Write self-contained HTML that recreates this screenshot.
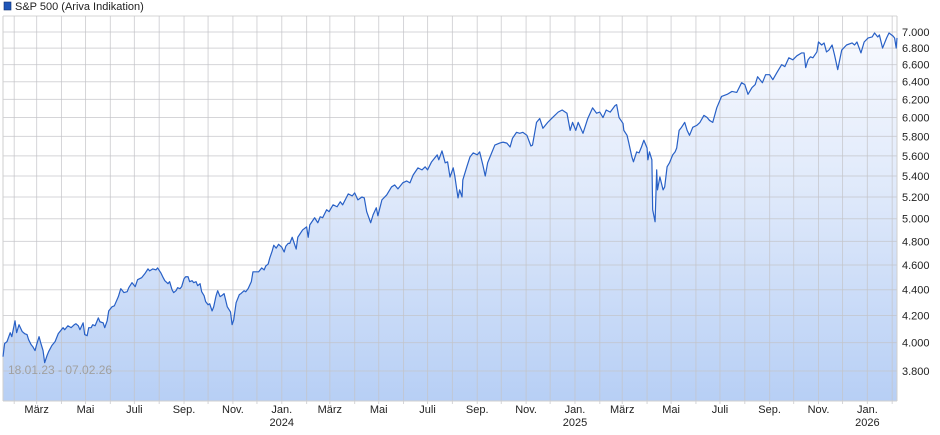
<!DOCTYPE html>
<html><head><meta charset="utf-8">
<style>
html,body{margin:0;padding:0;background:#fff;}
svg{display:block;font-family:"Liberation Sans",Arial,sans-serif;}
</style></head>
<body>
<svg id="chart" width="940" height="435" viewBox="0 0 940 435" xmlns="http://www.w3.org/2000/svg">
<defs>
<linearGradient id="fillGrad" gradientUnits="userSpaceOnUse" x1="0" y1="16" x2="0" y2="401">
<stop offset="0" stop-color="#fbfcff"/>
<stop offset="0.5" stop-color="#dce7fa"/>
<stop offset="1" stop-color="#b7cff5"/>
</linearGradient>
</defs>
<rect x="4" y="2" width="7" height="8" fill="#1f56b8" stroke="#0d2f70" stroke-width="0.6"/>
<text x="15" y="10" font-size="11" fill="#222">S&amp;P 500 (Ariva Indikation)</text>
<g id="fillLayer"></g>
<g id="gridLayer"></g>
<g id="lineLayer"></g>
<g id="axisLayer"></g>
<text x="8" y="374" font-size="12" fill="#a0a0a0">18.01.23 - 07.02.26</text>
</svg>
<script>
// data: days since 2023-01-18, index values
const days = [0,2,5,9,11,15,17,20,24,27,30,32,35,37,40,42,45,47,50,52,55,57,61,65,69,72,75,77,81,85,89,91,94,96,100,102,105,107,110,112,115,119,121,125,127,130,132,136,139,144,147,151,155,157,161,165,168,173,177,181,183,187,191,193,197,200,202,206,208,211,213,216,218,221,223,226,228,231,233,236,238,241,243,246,248,251,253,256,258,261,263,266,268,271,273,276,280,284,286,288,291,295,297,301,303,306,310,312,316,319,323,326,328,331,333,336,338,341,344,348,351,353,356,358,361,366,368,374,379,381,383,389,393,396,399,404,407,412,417,421,424,431,436,439,443,448,451,454,459,462,466,468,473,479,485,489,493,499,504,508,512,518,523,527,530,535,542,544,548,552,555,558,562,564,568,570,573,574,579,583,587,592,595,599,602,605,610,614,620,624,629,633,636,641,645,649,654,659,661,666,670,674,680,686,693,698,704,708,711,715,718,724,730,736,741,745,749,753,758,764,766,769,774,775,779,781,785,787,791,794,797,800,804,805,807,810,811,814,816,817,820,824,826,829,832,836,839,841,844,847,851,854,857,861,866,870,875,879,882,886,891,897,904,910,916,922,926,930,935,939,942,948,952,957,961,966,972,976,981,986,991,997,1000,1002,1005,1008,1011,1016,1018,1022,1025,1028,1031,1035,1038,1042,1047,1053,1060,1063,1066,1071,1075,1080,1085,1088,1092,1094,1098,1103,1106,1111,1113,1115,1116];
const values = [3900,3993,4007,4072,4043,4160,4072,4131,4080,4065,4058,4021,3986,3972,3943,3986,4043,4000,3943,3858,3908,3936,3979,4007,4065,4087,4109,4094,4123,4109,4131,4138,4123,4094,4145,4058,4050,4109,4109,4131,4123,4182,4153,4145,4109,4160,4235,4266,4274,4345,4408,4377,4384,4416,4456,4424,4480,4496,4528,4568,4552,4568,4560,4576,4536,4496,4472,4448,4464,4400,4377,4392,4416,4408,4424,4488,4504,4504,4464,4472,4456,4464,4432,4448,4384,4353,4306,4282,4290,4235,4266,4353,4392,4345,4353,4369,4266,4227,4131,4167,4298,4361,4369,4392,4384,4408,4464,4544,4544,4544,4576,4560,4592,4608,4658,4717,4767,4742,4775,4750,4709,4758,4783,4783,4836,4734,4836,4900,4927,4836,4945,5009,4964,5018,5009,5082,5064,5127,5109,5155,5127,5229,5210,5238,5173,5200,5191,5064,4964,5036,5100,5027,5173,5219,5295,5314,5276,5334,5352,5334,5410,5480,5460,5490,5460,5540,5610,5560,5650,5530,5540,5390,5480,5400,5191,5267,5200,5362,5490,5590,5630,5610,5640,5510,5400,5530,5630,5710,5730,5740,5730,5690,5780,5842,5832,5842,5811,5700,5710,5948,5990,5885,5948,6000,6059,6082,6047,5863,5948,5863,5948,5832,5990,6106,6047,6059,6000,6082,6059,6130,6141,6000,5937,5863,5811,5740,5590,5540,5640,5630,5690,5760,5680,5560,5640,5560,5082,4973,5460,5267,5391,5267,5295,5490,5530,5610,5640,5680,5863,5895,5948,5863,5811,5895,5916,5948,6024,6000,5969,5948,6106,6233,6256,6289,6278,6389,6367,6256,6333,6367,6458,6389,6482,6482,6424,6505,6600,6576,6682,6658,6706,6741,6741,6565,6658,6694,6682,6753,6875,6838,6863,6753,6776,6838,6717,6541,6776,6838,6863,6838,6875,6741,6875,6925,6938,6988,6938,6963,6800,6925,6988,6950,6925,6800,6925];
const yTicks = [3800,4000,4200,4400,4600,4800,5000,5200,5400,5600,5800,6000,6200,6400,6600,6800,7000];
const yTickLabels = ["3.800","4.000","4.200","4.400","4.600","4.800","5.000","5.200","5.400","5.600","5.800","6.000","6.200","6.400","6.600","6.800","7.000"];
const monthNames = ["Jan.","Feb.","März","Apr.","Mai","Juni","Juli","Aug.","Sep.","Okt.","Nov.","Dez."];

const NS="http://www.w3.org/2000/svg";
const L=3,R=897,T=16,B=401,totalDays=1116;
const start=Date.UTC(2023,0,18);
const xs=d=>L+(R-L)*d/totalDays;
const ys=v=>32+555*Math.log(7000/v);
function mk(tag,attrs,parent){const e=document.createElementNS(NS,tag);for(const k in attrs)e.setAttribute(k,attrs[k]);parent.appendChild(e);return e;}

const fillL=document.getElementById('fillLayer'),gridL=document.getElementById('gridLayer'),lineL=document.getElementById('lineLayer'),axL=document.getElementById('axisLayer');

// area & line
let pts=days.map((d,i)=>xs(d).toFixed(2)+","+ys(values[i]).toFixed(2));
const area=mk('path',{d:"M"+xs(days[0])+","+B+" L"+pts.join(" L")+" L"+xs(days[days.length-1])+","+B+" Z",fill:"url(#fillGrad)"},fillL);


const line=mk('polyline',{points:pts.join(" "),fill:"none",stroke:"#2860c6","stroke-width":"1.2","stroke-linejoin":"round"},lineL);



// horizontal grid + y labels
mk('line',{x1:L,x2:R,y1:T,y2:T,stroke:"rgba(200,200,200,0.75)"},gridL);
yTicks.forEach((v,i)=>{
  const y=ys(v);
  const g=mk('line',{x1:L,x2:R,y1:y,y2:y,stroke:"rgba(195,195,200,0.7)","stroke-width":"1"},gridL);
  
  
  const t=mk('text',{x:902,y:y+4,"font-size":"11",fill:"#222"},axL);
  t.textContent=yTickLabels[i];
  
  
});
// vertical month grid + labels
for(let y=2023;y<=2026;y++){for(let m=0;m<12;m++){
  const d=(Date.UTC(y,m,1)-start)/86400000;
  if(d<=0||d>totalDays)continue;
  const x=xs(d);
  const g=mk('line',{x1:x,x2:x,y1:T,y2:B+3,stroke:"rgba(195,195,200,0.7)","stroke-width":"1"},gridL);
  
  
  if(m%2===0){
    const t=mk('text',{x:x,y:413,"font-size":"11",fill:"#222","text-anchor":"middle"},axL);
    t.textContent=monthNames[m];
    
    
    if(m===0){
      const t2=mk('text',{x:x,y:426,"font-size":"11",fill:"#222","text-anchor":"middle"},axL);
      t2.textContent=String(y);
      
      
    }
  }
}}
// frame
mk('line',{x1:L,x2:L,y1:T,y2:B,stroke:"#cfcfcf"},gridL);
mk('line',{x1:R,x2:R,y1:T,y2:B,stroke:"#cfcfcf"},gridL);
mk('line',{x1:L,x2:R,y1:B,y2:B,stroke:"#cfcfcf"},gridL);
</script>
</body></html>
